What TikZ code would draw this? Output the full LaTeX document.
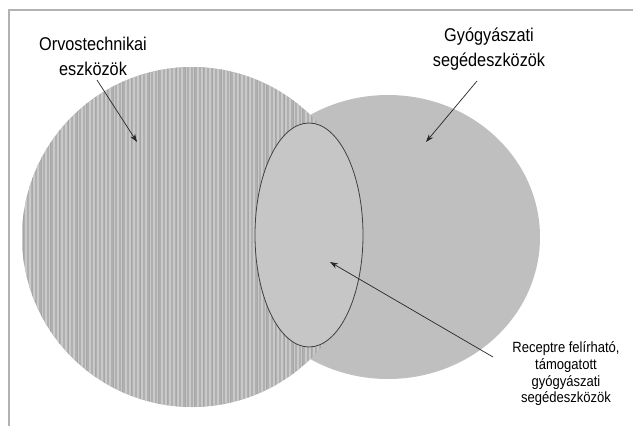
\documentclass[tikz,border=0pt]{standalone}
\usepackage{fontspec}
\setmainfont{Liberation Sans}[FakeStretch=0.88]
\usetikzlibrary{arrows.meta}
\begin{document}
\begin{tikzpicture}[x=1pt,y=-1pt,
  frameline/.style={draw=gray!60,line width=2.2pt},
  pointer/.style={draw=black!85,line width=0.7pt,-{Stealth[length=8pt,width=5.5pt]}},
  biglabel/.style={align=center,inner sep=0pt,font=\fontsize{18.5}{25}\selectfont},
  smalllabel/.style={align=center,inner sep=0pt,font=\fontsize{14.8}{16.7}\selectfont}]
\useasboundingbox (0,0) rectangle (633,426);
% frame
\draw[frameline] (633,10) -- (9,10) -- (9,426);
% right set (solid grey)
\fill[gray!50] (388,237) ellipse [x radius=152, y radius=142];
% left set (vertical stripes)
\begin{scope}
  \clip (192,237) circle [radius=170];
  \fill[gray!62] (22,60) rectangle (362,410);
  \foreach \x in {22,26,...,362}{
    \draw[gray!42,line width=1.6pt] (\x,60) -- (\x,410);
  }
  \foreach \x in {23,32,...,362}{
    \draw[gray!70,line width=0.8pt] (\x,60) -- (\x,410);
  }
\end{scope}
% inner set
\draw[fill=gray!45,draw=black!75,line width=0.8pt] (309,235) ellipse [x radius=54, y radius=112];
% labels
\node[biglabel] (ot) at (93,56) {Orvostechnikai\\eszközök};
\node[biglabel] (gy) at (489,49) {Gyógyászati\\segédeszközök};
\node[smalllabel] (rf) at (566,374) {Receptre felírható,\\támogatott\\gyógyászati\\segédeszközök};
% arrow anchors
\coordinate (otS) at (97,80);
\coordinate (otT) at (137,142);
\coordinate (gyS) at (477,81);
\coordinate (gyT) at (426,142);
\coordinate (rfS) at (493,357);
\coordinate (rfT) at (330,262);
\draw[pointer] (otS) -- (otT);
\draw[pointer] (gyS) -- (gyT);
\draw[pointer] (rfS) -- (rfT);
\end{tikzpicture}
\end{document}
